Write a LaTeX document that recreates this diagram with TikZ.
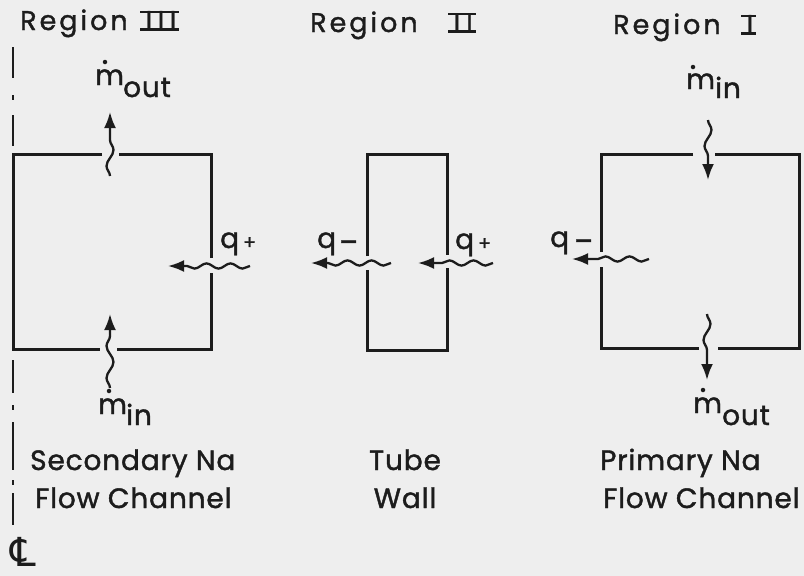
\documentclass[tikz,border=0pt]{standalone}
\usepackage{fontspec}
\setmainfont{Poppins}
\newfontfamily\lett{Poppins}[LetterSpace=3,BoldFont=Poppins,BoldFeatures={FakeBold=1.4}]
\newfontfamily\lettw{Poppins}[LetterSpace=11,BoldFont=Poppins,BoldFeatures={FakeBold=1.4}]
\newfontfamily\djv{DejaVu Sans}
\usetikzlibrary{arrows.meta,decorations.pathmorphing}
\definecolor{bg}{RGB}{238,238,238}
\definecolor{ink}{RGB}{28,28,28}
\newcommand\rnum[1]{\setbox0\hbox{#1}\rlap{\kern-0.2em\rule[-0.02em]{\dimexpr\wd0+0.3em}{0.09em}}\rlap{\kern-0.2em\rule[\dimexpr\ht0-0.07em]{\dimexpr\wd0+0.3em}{0.09em}}\box0}
\begin{document}
\begin{tikzpicture}[x=1pt,y=-1pt,
  box/.style={draw=ink,line width=3pt,line join=miter},
  cl/.style={draw=ink,line width=2.4pt},
  wavy/.style={draw=ink,line width=2.3pt,-{Latex[length=16pt,width=12pt]},decorate,
    decoration={snake,amplitude=2.6pt,segment length=24pt,post length=16pt}},
  vwavy/.style={wavy,decoration={snake,amplitude=3.5pt,segment length=32pt,post length=16pt}},
  lbl/.style={inner sep=0pt,anchor=base west,text=ink,font=\lett\bfseries\fontsize{28}{32}\selectfont},
  ttl/.style={inner sep=0pt,anchor=base west,text=ink,font=\lettw\bfseries\fontsize{27}{32}\selectfont},
  mdot/.style={fill=ink,circle,inner sep=0pt,minimum size=4.5pt}]
\fill[bg] (0,0) rectangle (804,576);
\useasboundingbox (0,0) rectangle (804,576);
% centre line
\draw[cl] (13,47) -- (13,78);
\draw[cl] (13,95) -- (13,100);
\draw[cl] (13,115) -- (13,146);
\draw[cl] (13,360) -- (13,393);
\draw[cl] (13,405) -- (13,410);
\draw[cl] (13,422) -- (13,470);
\draw[cl] (13,480) -- (13,485);
\draw[cl] (13,493) -- (13,525);
\node[inner sep=0pt,anchor=base west,text=ink,font=\djv\fontsize{40}{40}\selectfont] (cl) at (10,566) {℄};
% Region III box
\draw[box] (102,154) -- (13,154) -- (13,349) -- (100,349);
\draw[box] (117,349) -- (211,349) -- (211,273);
\draw[box] (211,258) -- (211,154) -- (119,154);
% Region II box
\draw[box] (367,256) -- (367,154) -- (447,154) -- (447,255);
\draw[box] (447,268) -- (447,350) -- (367,350) -- (367,270);
% Region I box
\draw[box] (693,154) -- (601,154) -- (601,252);
\draw[box] (601,267) -- (601,348) -- (699,348);
\draw[box] (718,348) -- (799,348) -- (799,154) -- (715,154);
% wavy arrows
\coordinate (a1s) at (110,176); \coordinate (a1e) at (110,112);
\coordinate (a2s) at (110,388); \coordinate (a2e) at (110,314);
\coordinate (a3s) at (250,266); \coordinate (a3e) at (168,266);
\coordinate (a4s) at (391,263); \coordinate (a4e) at (311,263);
\coordinate (a5s) at (493,263); \coordinate (a5e) at (418,263);
\coordinate (a6s) at (708,120); \coordinate (a6e) at (708,180);
\coordinate (a7s) at (707,314); \coordinate (a7e) at (707,380);
\coordinate (a8s) at (649,259); \coordinate (a8e) at (572,259);
\foreach \i in {1,2,6,7} {\draw[vwavy] (a\i s) -- (a\i e);}
\foreach \i in {3,4,5,8} {\draw[wavy] (a\i s) -- (a\i e);}
% titles
\node[ttl] (t3) at (20,30) {Region\kern18pt\rnum{I\kern.2em I\kern.2em I}};
\node[ttl] (t2) at (310,32) {Region\kern36pt\rnum{I\kern.22em I}};
\node[ttl] (t1) at (613,34) {Region\kern26pt\rnum{I}};
% mass flow labels
\node[lbl] (m3o) at (95,85) {m};
\node[lbl] (s3o) at (123,97) {out};
\node[mdot] (d3o) at (105,62) {};
\node[lbl] (m3i) at (98,414) {m};
\node[lbl] (s3i) at (126,425) {in};
\node[mdot] (d3i) at (109,391) {};
\node[lbl] (m1i) at (686,89) {m};
\node[lbl] (s1i) at (715,98) {in};
\node[mdot] (d1i) at (693,67) {};
\node[lbl] (m1o) at (693,413) {m};
\node[lbl] (s1o) at (722,425) {out};
\node[mdot] (d1o) at (703,390) {};
% heat flux labels
\node[lbl] (q3p) at (220,248) {q\kern4pt\raisebox{-1pt}{\fontsize{19}{19}\selectfont +}};
\node[lbl] (q2m) at (317,248) {q\kern3pt\raisebox{-4pt}{–}};
\node[lbl] (q2p) at (455,249) {q\kern4pt\raisebox{-1pt}{\fontsize{19}{19}\selectfont +}};
\node[lbl] (q1m) at (550,247) {q\kern5pt\raisebox{-4pt}{–}};
% bottom labels
\node[lbl] (b3a) at (30,470) {Secondary Na};
\node[lbl] (b3b) at (35,508) {Flow Channel};
\node[lbl,anchor=base] (b2a) at (405,470) {Tube};
\node[lbl,anchor=base] (b2b) at (405,508) {Wall};
\node[lbl] (b1a) at (600,470) {Primary Na};
\node[lbl] (b1b) at (603,508) {Flow Channel};
\end{tikzpicture}
\end{document}
